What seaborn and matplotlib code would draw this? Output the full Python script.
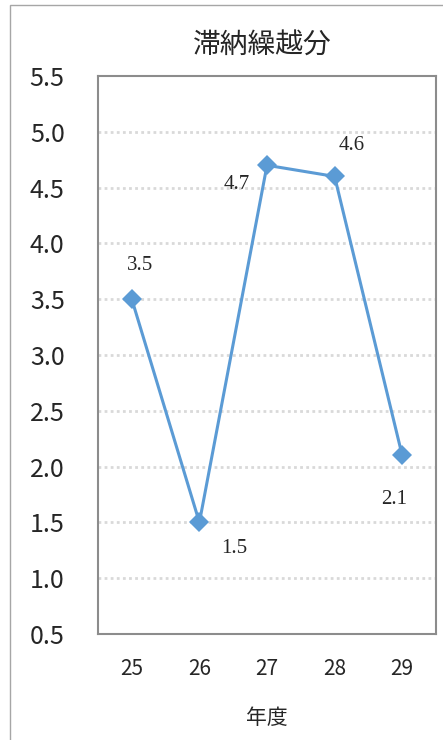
import matplotlib
matplotlib.use("Agg")
import matplotlib.pyplot as plt
import seaborn as sns
import pandas as pd
from matplotlib.patches import Rectangle

# data
years = ["25", "26", "27", "28", "29"]
values = [3.5, 1.5, 4.7, 4.6, 2.1]
label_offsets = [(6, 24), (25, -19), (-22, -14), (12, 22), (-6, -32)]
yticks = [0.5, 1.0, 1.5, 2.0, 2.5, 3.0, 3.5, 4.0, 4.5, 5.0, 5.5]

sns.set_style("white")
plt.rcParams["font.family"] = ["Noto Sans CJK JP", "DejaVu Sans"]

df = pd.DataFrame({"year": years, "value": values})

fig = plt.figure(figsize=(4.43, 7.40), dpi=100)
ax = fig.add_axes([98 / 443, 1 - 634 / 740, 338 / 443, 558 / 740])

sns.lineplot(data=df, x="year", y="value", ax=ax, color="#5B9BD5",
             linewidth=2.2, marker="D", markersize=10, markeredgewidth=0)

ax.set_xlim(-0.5, 4.5)
ax.set_ylim(0.5, 5.5)
ax.set_yticks(yticks)
ax.set_yticklabels([f"{t:.1f}" for t in yticks], fontsize=18)
ax.tick_params(axis="y", length=0, pad=24)
ax.tick_params(axis="x", length=0, pad=17, labelsize=15)

for t in yticks[1:-1]:
    ax.axhline(t, color="#d9d9d9", linestyle=(0, (1, 1.2)), linewidth=2, zorder=0)

for sp in ax.spines.values():
    sp.set_color("#8c8c8c")
    sp.set_linewidth(1.5)

for i, (v, off) in enumerate(zip(values, label_offsets)):
    ax.annotate(f"{v:.1f}", (i, v), xytext=off, textcoords="offset points",
                ha="center", va="center", fontsize=15,
                family=["Liberation Serif", "DejaVu Serif"])

ax.set_xlabel("年度", fontsize=15, labelpad=20)
ax.set_ylabel("")
fig.suptitle("滞納繰越分", fontsize=20, x=262 / 443, y=1 - 45 / 740, va="center")

fig.patches.append(Rectangle((10 / 443, -0.05), 1.0, 1.05 - 5 / 740,
                             transform=fig.transFigure, fill=False,
                             edgecolor="#a6a6a6", linewidth=1))

fig.savefig("out.png", dpi=100)
